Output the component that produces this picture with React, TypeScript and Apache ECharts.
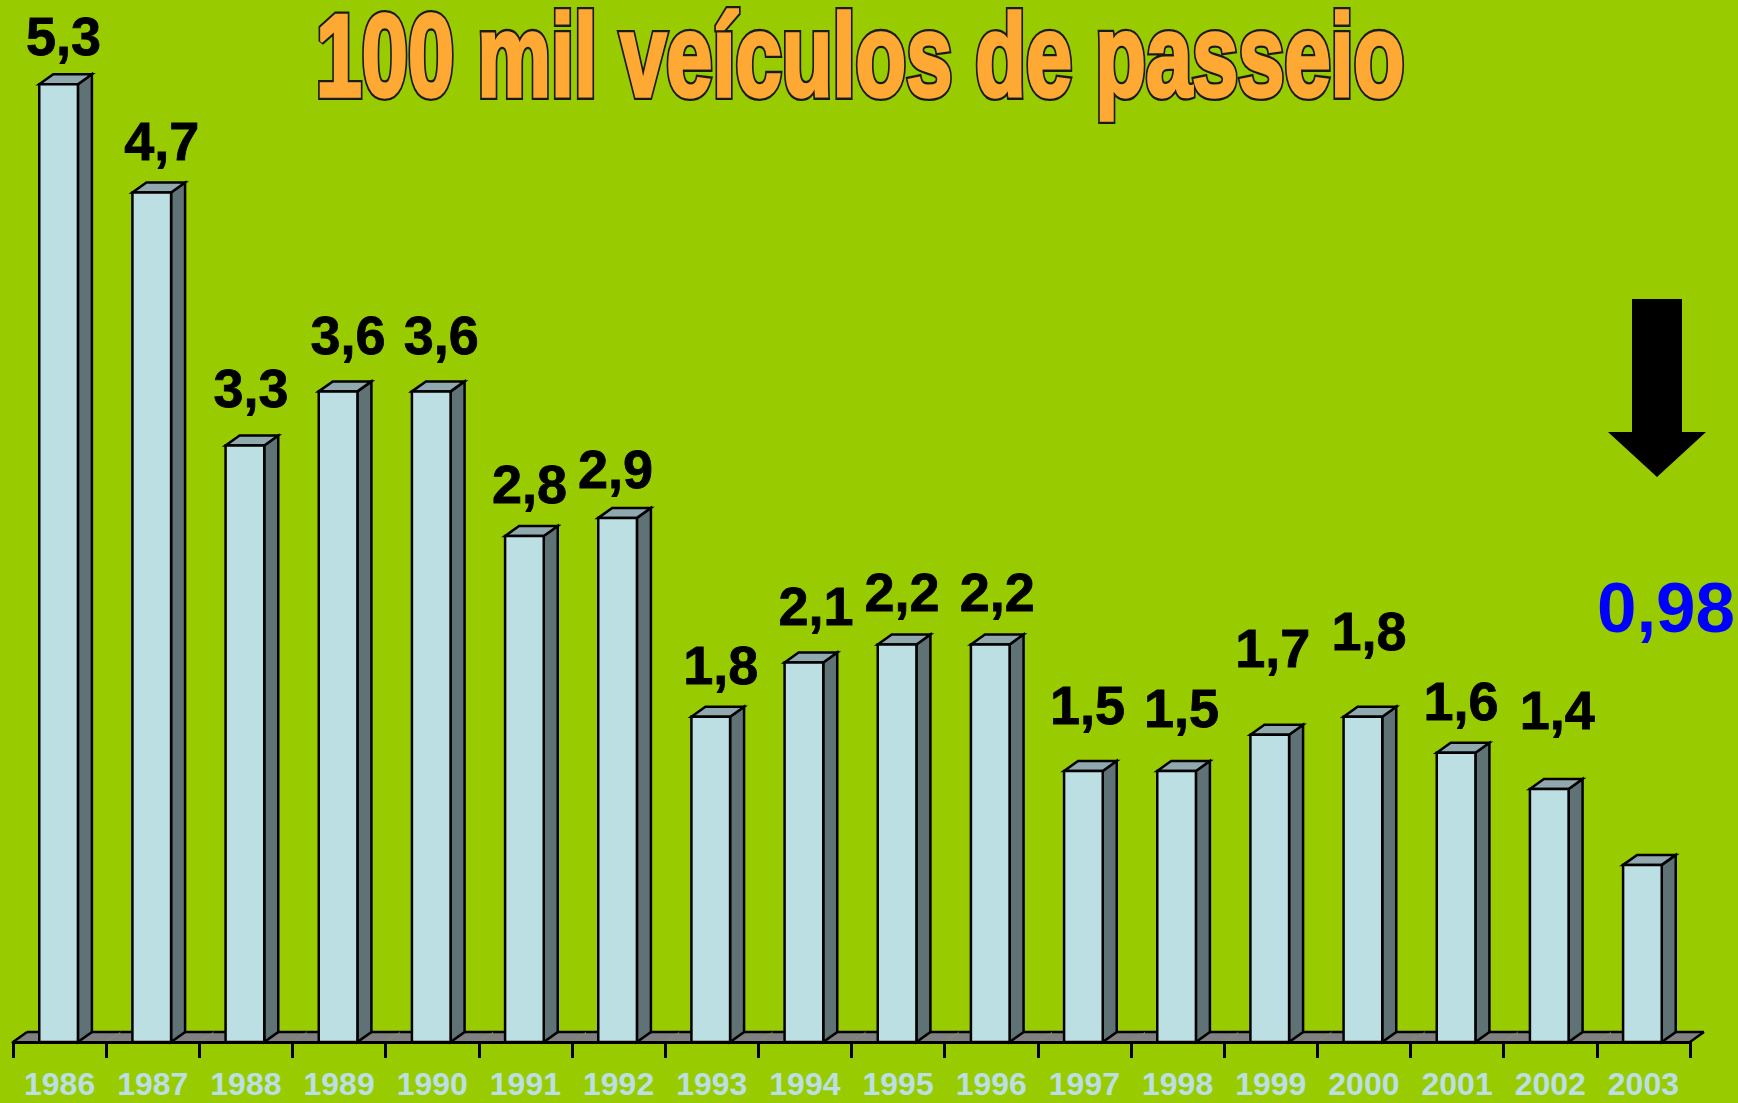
import React, { useEffect, useRef } from "react";
import * as echarts from "echarts";

const years = ["1986", "1987", "1988", "1989", "1990", "1991", "1992", "1993", "1994", "1995", "1996", "1997", "1998", "1999", "2000", "2001", "2002", "2003"];
const values = [5.3, 4.7, 3.3, 3.6, 3.6, 2.8, 2.9, 1.8, 2.1, 2.2, 2.2, 1.5, 1.5, 1.7, 1.8, 1.6, 1.4, 0.98];
const showBlackLabel = [true, true, true, true, true, true, true, true, true, true, true, true, true, true, true, true, true, false];
const labelNudgeX = [-1, 4, 0, 4, 4, -1, -8, 4, 6, -1, 1, -2, -1, -3, 0, -1, 2, 0];
const labelNudgeY = [4, 0, -6, -4, -4, 0, 3, 0, -4, 0, 0, -14, -11, -35, -34, 0, -27, 0];
const titleText = "100 mil veículos de passeio";
const highlightValue = values[values.length - 1];

const FONT = '"Liberation Sans", Arial, Helvetica, sans-serif';
const fmt = (v: number) => String(v).replace(".", ",");

export default function App() {
  const ref = useRef<HTMLDivElement>(null);
  useEffect(() => {
    if (!ref.current) return;
    const chart = echarts.init(ref.current, null, { renderer: "svg" });
    const DX = 14;
    const DY = 10;
    const data = values.map((v, i) => [i, v]);

    const titleBase = {
      type: "text",
      x: 860,
      y: 55,
      scaleX: 0.83,
      scaleY: 1.17,
    };
    const titleFont = {
      text: titleText,
      fontFamily: FONT,
      fontWeight: "bold",
      fontSize: 100,
      lineHeight: 78,
      align: "center",
      verticalAlign: "middle",
    };

    const option: any = {
      animation: false,
      backgroundColor: "#99CC00",
      grid: { left: 13, right: 48, top: 48, bottom: 61, containLabel: false, outerBoundsMode: "none" },
      xAxis: {
        type: "category",
        data: years,
        boundaryGap: true,
        z: 5,
        axisLine: { show: true, lineStyle: { color: "#000", width: 3 } },
        axisTick: { show: true, length: 16, lineStyle: { color: "#000", width: 3 } },
        axisLabel: {
          color: "#BBDFE3",
          fontFamily: FONT,
          fontWeight: "bold",
          fontSize: 32,
          lineHeight: 30,
          margin: 27,
        },
        splitLine: { show: false },
      },
      yAxis: { type: "value", min: 0, max: 5.5, show: false, splitLine: { show: false } },
      series: [
        {
          type: "custom",
          z: 1,
          data,
          encode: { x: 0, y: 1 },
          renderItem: (params: any, api: any) => {
            const i = api.value(0);
            const base = api.coord([i, 0]);
            const band = api.size([1, 0])[0];
            const l = base[0] - band / 2;
            const r = base[0] + band / 2;
            const y0 = base[1];
            const children: any[] = [
              {
                type: "polygon",
                shape: { points: [[l, y0], [r, y0], [r + DX, y0 - DY], [l + DX, y0 - DY]] },
                style: { fill: "#808080", stroke: null },
              },
              {
                type: "line",
                shape: { x1: l + DX, y1: y0 - DY, x2: r + DX, y2: y0 - DY },
                style: { stroke: "#000", lineWidth: 2.5 },
              },
            ];
            if (i === 0) {
              children.push({ type: "line", shape: { x1: l, y1: y0, x2: l + DX, y2: y0 - DY }, style: { stroke: "#000", lineWidth: 2.5 } });
            }
            if (i === values.length - 1) {
              children.push({ type: "line", shape: { x1: r, y1: y0, x2: r + DX, y2: y0 - DY }, style: { stroke: "#000", lineWidth: 2.5 } });
            }
            return { type: "group", children };
          },
        },
        {
          type: "custom",
          z: 2,
          data,
          encode: { x: 0, y: 1 },
          renderItem: (params: any, api: any) => {
            const i = api.value(0);
            const v = api.value(1);
            const base = api.coord([i, 0]);
            const top = api.coord([i, v]);
            const band = api.size([1, 0])[0];
            const w = band * 0.415;
            const cx = base[0] - 1;
            const fl = cx - w / 2;
            const fr = cx + w / 2;
            const yb = base[1];
            const yt = top[1];
            const stroke = { stroke: "#000", lineWidth: 2.5, lineJoin: "miter" };
            const children: any[] = [
              {
                type: "polygon",
                shape: { points: [[fr, yt], [fr + DX, yt - DY], [fr + DX, yb - DY], [fr, yb]] },
                style: { fill: "#5F7276", ...stroke },
              },
              {
                type: "polygon",
                shape: { points: [[fl, yt], [fl + DX, yt - DY], [fr + DX, yt - DY], [fr, yt]] },
                style: { fill: "#8FA9AE", ...stroke },
              },
              {
                type: "rect",
                shape: { x: fl, y: yt, width: w, height: yb - yt },
                style: { fill: "#BBDFE3", ...stroke },
              },
            ];
            if (showBlackLabel[i]) {
              children.push({
                type: "text",
                x: cx + 6 + labelNudgeX[i],
                y: yt - 52 + labelNudgeY[i],
                style: {
                  text: fmt(values[i]),
                  fill: "#000",
                  stroke: "#000",
                  lineWidth: 0.8,
                  fontFamily: FONT,
                  fontWeight: "bold",
                  fontSize: 54,
                  align: "center",
                  verticalAlign: "middle",
                },
              });
            }
            return { type: "group", children };
          },
        },
      ],
      graphic: [
        {
          ...titleBase,
          z: 10,
          style: { ...titleFont, fill: "#1A1A1A", stroke: "#1A1A1A", lineWidth: 7, lineJoin: "round" },
        },
        {
          ...titleBase,
          z: 11,
          style: { ...titleFont, fill: "#FFA935", stroke: "#FFA935", lineWidth: 3, lineJoin: "round" },
        },
        {
          type: "polygon",
          z: 10,
          shape: {
            points: [[1632, 299], [1682, 299], [1682, 432], [1706, 432], [1657, 477], [1608, 432], [1632, 432]],
          },
          style: { fill: "#000" },
        },
        {
          type: "text",
          x: 1666,
          y: 607,
          z: 10,
          style: {
            text: fmt(highlightValue),
            fill: "#0000FF",
            fontFamily: FONT,
            fontWeight: "bold",
            fontSize: 71,
            align: "center",
            verticalAlign: "middle",
          },
        },
      ],
    };
    chart.setOption(option);
    return () => chart.dispose();
  }, []);
  return <div ref={ref} style={{ position: "fixed", left: 0, top: 0, width: 1738, height: 1103 }} />;
}
